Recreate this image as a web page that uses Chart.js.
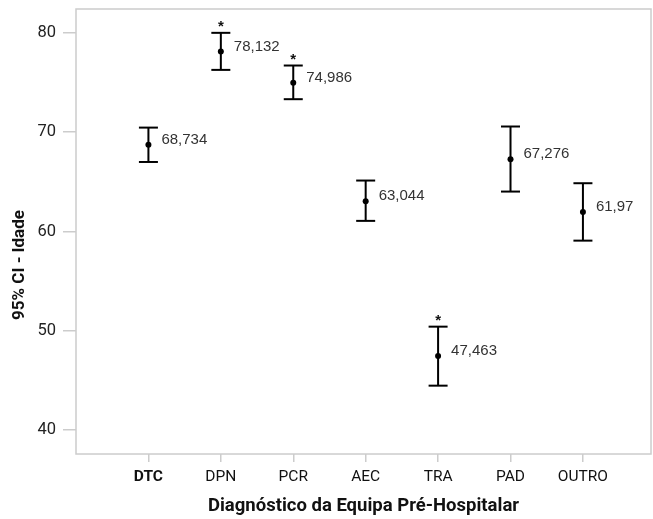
<!DOCTYPE html>
<html><head><meta charset="utf-8">
<script src="https://cdn.jsdelivr.net/npm/chart.js@4/dist/chart.umd.min.js"></script>
<style>html,body{margin:0;padding:0;background:#fff}#wrap{width:653px;height:519px}</style>
</head><body><div id="wrap"><canvas id="c" width="653" height="519"></canvas></div>
<script>
const categories = ['DTC','DPN','PCR','AEC','TRA','PAD','OUTRO'];
const means = [68.734,78.132,74.986,63.044,47.463,67.276,61.97];
const lower = [67.0,76.27,73.32,61.07,44.48,64.02,59.08];
const upper = [70.46,80.0,76.71,65.13,50.42,70.57,64.86];
const meanLabels = ['68,734','78,132','74,986','63,044','47,463','67,276','61,97'];
const significant = [false,true,true,false,true,false,false];
const yTicks = [40,50,60,70,80];
const xTitle = 'Diagnóstico da Equipa Pré-Hospitalar';
const yTitle = '95% CI - Idade';

const FAM = "Roboto,'Liberation Sans',sans-serif";

const ciData = [];
categories.forEach((c,i)=>{ ciData.push({x:i,y:lower[i]},{x:i,y:upper[i]},{x:i,y:null}); });
const meanData = means.map((m,i)=>({x:i,y:m}));

const zeroPad = s => { s.paddingTop = 0; s.paddingBottom = 0; s.paddingLeft = 0; s.paddingRight = 0; };

const deco = {
  id:'deco',
  beforeDatasetsDraw(chart){
    const {ctx, chartArea:a} = chart;
    ctx.save();
    ctx.strokeStyle = '#cccccc';
    ctx.lineWidth = 1.5;
    ctx.strokeRect(a.left, a.top, a.right-a.left, a.bottom-a.top);
    ctx.restore();
  },
  afterDatasetsDraw(chart){
    const {ctx, scales:{x,y}} = chart;
    ctx.save();
    categories.forEach((c,i)=>{
      const px = x.getPixelForValue(i);
      ctx.fillStyle = '#333333';
      ctx.font = "15px 'Liberation Sans',Arial,sans-serif";
      ctx.textAlign = 'left';
      ctx.textBaseline = 'middle';
      ctx.fillText(meanLabels[i], px+13, y.getPixelForValue(means[i])-5);
      if (significant[i]) {
        ctx.fillStyle = '#111111';
        ctx.font = "bold 15px 'Liberation Sans',Arial,sans-serif";
        ctx.textAlign = 'center';
        ctx.textBaseline = 'middle';
        ctx.fillText('*', px, y.getPixelForValue(upper[i])-6);
      }
    });
    ctx.restore();
  },
  afterDraw(chart){
    const {ctx, chartArea:a} = chart;
    ctx.save();
    ctx.fillStyle = '#111111';
    ctx.textAlign = 'center';
    ctx.textBaseline = 'middle';
    ctx.font = "bold 18.5px " + FAM;
    ctx.fillText(xTitle, (a.left+a.right)/2, 506);
    ctx.translate(20, 265);
    ctx.rotate(-Math.PI/2);
    ctx.font = "bold 17px " + FAM;
    ctx.fillText(yTitle, 0, 0);
    ctx.restore();
  }
};

new Chart(document.getElementById('c'), {
  data: {
    datasets: [
      { type:'line', data: ciData, showLine:true, spanGaps:false, borderColor:'#000', borderWidth:2,
        pointStyle:'line', pointRadius:9.5, pointBorderWidth:2, pointBorderColor:'#000', pointHoverRadius:9.5 },
      { type:'scatter', data: meanData, pointRadius:3, backgroundColor:'#000', borderColor:'#000', borderWidth:0 }
    ]
  },
  options: {
    responsive:false, animation:false, devicePixelRatio:1, events:[],
    layout:{ autoPadding:false, padding:{ top:9, right:2, left:0, bottom:0 } },
    plugins:{ legend:{display:false}, tooltip:{enabled:false} },
    scales:{
      x:{ type:'linear', min:-1, max:6.94,
        afterBuildTicks:s=>{ s.ticks = categories.map((c,i)=>({value:i})); },
        afterFit:s=>{ s.height = 65; zeroPad(s); },
        ticks:{ autoSkip:false, maxRotation:0, padding:6, color:'#111111',
          callback:v=>categories[v] ?? '',
          font:ctx=>({ family:FAM, size:15.5, weight: ctx.index===0 ? 'bold' : 'normal' }) },
        grid:{ drawOnChartArea:false, drawTicks:true, tickLength:8, color:'#cccccc', lineWidth:1.5 },
        border:{ display:false }
      },
      y:{ type:'linear', min:37.6, max:82.4,
        afterBuildTicks:s=>{ s.ticks = yTicks.map(v=>({value:v})); },
        afterFit:s=>{ s.width = 76; zeroPad(s); },
        ticks:{ padding:7, color:'#222222', font:{ family:FAM, size:16.5 } },
        grid:{ drawOnChartArea:false, drawTicks:true, tickLength:13, color:'#cccccc', lineWidth:1.5 },
        border:{ display:false }
      }
    }
  },
  plugins:[deco]
});
</script></body></html>
